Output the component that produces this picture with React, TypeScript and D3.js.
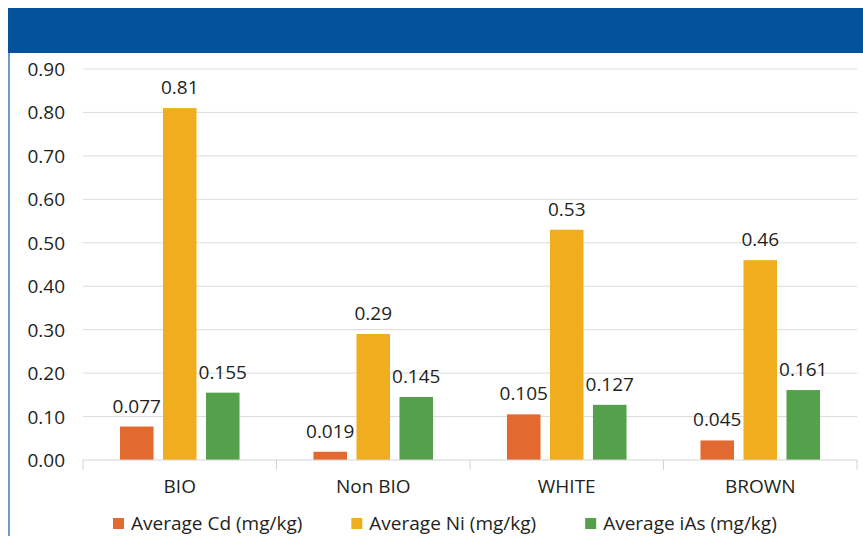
import React, { useEffect, useRef } from 'react';
import * as d3 from 'd3';

const categories = ['BIO', 'Non BIO', 'WHITE', 'BROWN'];
const seriesNames = ['Average Cd (mg/kg)', 'Average Ni (mg/kg)', 'Average iAs (mg/kg)'];
const cdValues = [0.077, 0.019, 0.105, 0.045];
const niValues = [0.81, 0.29, 0.53, 0.46];
const iasValues = [0.155, 0.145, 0.127, 0.161];
const cdLabels = ['0.077', '0.019', '0.105', '0.045'];
const niLabels = ['0.81', '0.29', '0.53', '0.46'];
const iasLabels = ['0.155', '0.145', '0.127', '0.161'];
const yTicks = [0, 0.1, 0.2, 0.3, 0.4, 0.5, 0.6, 0.7, 0.8, 0.9];

const colors = ['#E2692F', '#F0AE1E', '#55A04A'];

const App: React.FC = () => {
  const svgRef = useRef<SVGSVGElement>(null);

  useEffect(() => {
    if (!svgRef.current) return;
    const width = 863;
    const height = 536;
    const svg = d3.select(svgRef.current);
    svg.selectAll('*').remove();

    const font = '"Open Sans", sans-serif';
    const fs = 19;
    const textColor = '#231f20';

    // header band + left rule
    svg.append('rect')
      .attr('x', 8).attr('y', 8)
      .attr('width', width - 8).attr('height', 45)
      .attr('fill', '#03519B');
    svg.append('line')
      .attr('x1', 9).attr('x2', 9)
      .attr('y1', 53).attr('y2', height)
      .attr('stroke', '#3f78b8')
      .attr('stroke-width', 1.5);

    const left = 83, right = 857;
    const y = d3.scaleLinear().domain([0, 0.9]).range([460, 69]);
    const x0 = d3.scaleBand<string>().domain(categories).range([left, right]).padding(0);
    const x1 = d3.scaleBand<number>()
      .domain([0, 1, 2])
      .range([0, x0.bandwidth()])
      .paddingInner(0.22)
      .paddingOuter(0.86);

    // gridlines
    svg.append('g')
      .selectAll('line')
      .data(yTicks.slice(1))
      .enter()
      .append('line')
      .attr('x1', left).attr('x2', right)
      .attr('y1', d => y(d)).attr('y2', d => y(d))
      .attr('stroke', '#dcdcdc')
      .attr('stroke-width', 1);

    // y labels
    svg.append('g')
      .selectAll('text')
      .data(yTicks)
      .enter()
      .append('text')
      .attr('x', 65)
      .attr('y', d => y(d) + 7)
      .attr('text-anchor', 'end')
      .attr('font-family', font)
      .attr('font-size', fs)
      .attr('fill', textColor)
      .text(d => d3.format('.2f')(d));

    const series = [
      { values: cdValues, labels: cdLabels },
      { values: niValues, labels: niLabels },
      { values: iasValues, labels: iasLabels },
    ];

    series.forEach((s, si) => {
      const g = svg.append('g');
      g.selectAll('rect')
        .data(s.values)
        .enter()
        .append('rect')
        .attr('x', (_, i) => (x0(categories[i]) as number) + (x1(si) as number))
        .attr('y', d => y(d))
        .attr('width', x1.bandwidth())
        .attr('height', d => y(0) - y(d))
        .attr('fill', colors[si]);
      g.selectAll('text')
        .data(s.values)
        .enter()
        .append('text')
        .attr('x', (_, i) => (x0(categories[i]) as number) + (x1(si) as number) + x1.bandwidth() / 2)
        .attr('y', d => y(d) - 14)
        .attr('text-anchor', 'middle')
        .attr('font-family', font)
        .attr('font-size', fs)
        .attr('fill', textColor)
        .text((_, i) => s.labels[i]);
    });

    // x axis
    const axis = svg.append('g');
    axis.append('line')
      .attr('x1', left).attr('x2', right)
      .attr('y1', y(0)).attr('y2', y(0))
      .attr('stroke', '#d4d4d4');
    const bounds = categories.map(c => x0(c) as number).concat([right]);
    axis.selectAll('line.tick')
      .data(bounds)
      .enter()
      .append('line')
      .attr('class', 'tick')
      .attr('x1', d => d).attr('x2', d => d)
      .attr('y1', y(0)).attr('y2', y(0) + 10)
      .attr('stroke', '#d4d4d4');
    axis.selectAll('text')
      .data(categories)
      .enter()
      .append('text')
      .attr('x', d => (x0(d) as number) + x0.bandwidth() / 2)
      .attr('y', 493)
      .attr('text-anchor', 'middle')
      .attr('font-family', font)
      .attr('font-size', fs)
      .attr('fill', textColor)
      .text(d => d);

    // legend
    let lx = 113;
    seriesNames.forEach((name, i) => {
      svg.append('rect')
        .attr('x', lx).attr('y', 518)
        .attr('width', 11).attr('height', 11)
        .attr('fill', colors[i]);
      const t = svg.append('text')
        .attr('x', lx + 18)
        .attr('y', 530)
        .attr('font-family', font)
        .attr('font-size', fs)
        .attr('fill', textColor)
        .text(name);
      const w = (t.node() as SVGTextElement).getComputedTextLength();
      lx = lx + 18 + w + 49;
    });
  }, []);

  return (
    <svg
      ref={svgRef}
      width={863}
      height={536}
      style={{ position: 'absolute', left: 0, top: 0, background: '#fff' }}
    />
  );
};

export default App;
